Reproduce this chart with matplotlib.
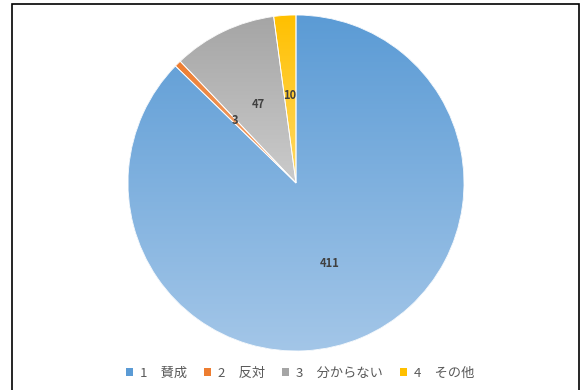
import matplotlib
matplotlib.use("Agg")
import matplotlib.pyplot as plt
import numpy as np
from matplotlib.colors import LinearSegmentedColormap
from matplotlib.patches import Rectangle, Wedge

plt.rcParams['font.family'] = ['Noto Sans CJK JP', 'DejaVu Sans']

labels = ["1\u3000賛成", "2\u3000反対", "3\u3000分からない", "4\u3000その他"]
values = [411, 3, 47, 10]
top_colors = ["#5b9bd5", "#ed7d31", "#a5a5a5", "#ffc000"]
bottom_colors = ["#a3c6e8", "#f4b183", "#cbcbcb", "#ffd966"]

fig = plt.figure(figsize=(5.8, 3.9), dpi=100)
ax = fig.add_axes([128 / 580, 39 / 390, 336 / 580, 336 / 390])

wedges, texts = ax.pie(values, startangle=90, counterclock=False,
                       colors=top_colors, labels=[str(v) for v in values],
                       labeldistance=0.52,
                       textprops=dict(fontsize=8, fontweight='bold', color='#404040'))
for t in texts:
    t.set_ha('center')
    t.set_va('center')
    t.set_zorder(5)

grad = np.linspace(0, 1, 256).reshape(-1, 1)
for w, c0, c1 in zip(wedges, top_colors, bottom_colors):
    cmap = LinearSegmentedColormap.from_list("g", [c0, c1])
    bb = w.get_path().get_extents()
    im = ax.imshow(grad, cmap=cmap, extent=[bb.x0, bb.x1, bb.y0, bb.y1],
                   origin='upper', aspect='auto', zorder=2, interpolation='bilinear')
    im.set_clip_path(w)
    ax.add_patch(Wedge(w.center, w.r, w.theta1, w.theta2, fc='none',
                       ec='white', lw=0.6, zorder=3))

ax.set_xlim(-1, 1)
ax.set_ylim(-1, 1)
ax.set_aspect('equal')
ax.axis('off')

handles = [Rectangle((0, 0), 1, 1, fc=c) for c in top_colors]
fig.legend(handles, labels, loc='center', bbox_to_anchor=(0.517, 0.042), ncol=4,
           frameon=False, fontsize=9.5, handlelength=0.55, handleheight=0.55,
           handletextpad=0.5, columnspacing=1.3, labelcolor='#595959')

fig.add_artist(Rectangle((12 / 580, -0.02), 567 / 580, 1.02 - 4 / 390,
                         transform=fig.transFigure, fill=False, ec='black', lw=1.2))

fig.savefig("out.png", dpi=100)
